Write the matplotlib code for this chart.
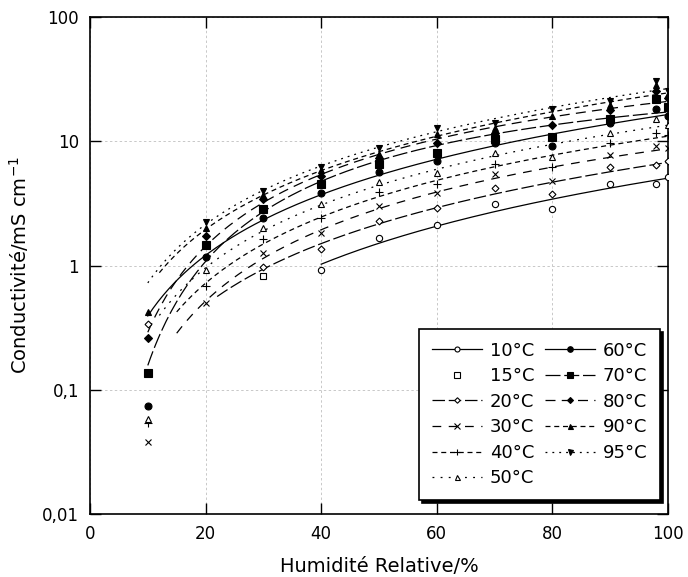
import numpy as np
import matplotlib
matplotlib.use("Agg")
import matplotlib.pyplot as plt
from matplotlib.lines import Line2D
from matplotlib.ticker import FixedLocator, FixedFormatter, NullLocator

# Données (humidité relative en %, conductivité en mS/cm)
temperatures = ["10°C", "15°C", "20°C", "30°C", "40°C", "50°C",
                "60°C", "70°C", "80°C", "90°C", "95°C"]

rh_10 = [40, 50, 60, 70, 80, 90, 98, 100]
sigma_10 = [0.92, 1.68, 2.1, 3.15, 2.87, 4.5, 4.5, 5.2]

rh_15 = [30]
sigma_15 = [0.82]

rh_20 = [10, 30, 40, 50, 60, 70, 80, 90, 98, 100]
sigma_20 = [0.34, 0.98, 1.35, 2.3, 2.93, 4.24, 3.73, 6.15, 6.5, 7.0]

rh_all = [10, 20, 30, 40, 50, 60, 70, 80, 90, 98, 100]
sigma_30 = [0.038, 0.495, 1.27, 1.81, 3.04, 3.8, 5.5, 4.8, 7.8, 9.1, 8.9]
sigma_40 = [0.054, 0.69, 1.62, 2.39, 3.87, 4.57, 6.6, 6.15, 9.6, 11.6, 11.3]
sigma_50 = [0.058, 0.92, 2.02, 3.1, 4.74, 5.6, 8.0, 7.5, 11.6, 15.0, 13.4]
sigma_60 = [0.074, 1.16, 2.43, 3.8, 5.7, 6.9, 9.6, 9.2, 13.9, 18.3, 16.1]
sigma_70 = [0.137, 1.45, 2.87, 4.57, 6.6, 8.0, 10.5, 10.9, 15.2, 22.0, 18.7]
sigma_80 = [0.263, 1.74, 3.46, 5.3, 7.4, 9.6, 11.7, 13.4, 17.7, 25.6, 22.5]
sigma_90 = [0.42, 2.0, 3.7, 5.9, 7.9, 11.5, 12.9, 16.1, 19.7, 28.6, 24.0]

rh_95 = [20, 30, 40, 50, 60, 70, 80, 90, 98, 100]
sigma_95 = [2.22, 4.0, 6.15, 8.9, 12.7, 13.9, 18.3, 20.9, 30.8, 25.6]

rh_data = [rh_10, rh_15, rh_20, rh_all, rh_all, rh_all,
           rh_all, rh_all, rh_all, rh_all, rh_95]
sigma_data = [sigma_10, sigma_15, sigma_20, sigma_30, sigma_40, sigma_50,
              sigma_60, sigma_70, sigma_80, sigma_90, sigma_95]

# style : marqueur, remplissage, tirets, debut de l'ajustement, debut de la courbe
markers = ["o", "s", "D", "x", "+", "^", "o", "s", "D", "^", "v"]
filled = [False, False, False, False, False, False, True, True, True, True, True]
msizes = [4.5, 5, 3.5, 5, 5.5, 4.5, 5, 5.5, 3.8, 4.5, 4.5]
dashes = [None, "none", (10, 3), (7, 6), (4, 3), (1.5, 5),
          None, (12, 3), (8, 5), (4, 3), (1.5, 4)]
fit_from = [40, None, 30, 20, 20, 20, 20, 10, 10, 20, 20]
fit_deg = [1, None, 1, 2, 2, 2, 1, 2, 2, 1, 1]
line_from = [40, None, 22, 15, 15, 12, 10, 10, 10, 12, 10]

fig = plt.figure(figsize=(6.88, 5.77), dpi=100)
ax = fig.add_axes([0.1308, 0.1092, 0.8402, 0.8613])

handles = []
for i, name in enumerate(temperatures):
    x = np.array(rh_data[i], dtype=float)
    y = np.array(sigma_data[i], dtype=float)
    face = "black" if filled[i] else "white"
    ax.plot(x, y, ls="none", marker=markers[i], ms=msizes[i],
            mfc=face, mec="black", mew=0.8, zorder=3)

    if fit_from[i] is not None:
        sel = x >= fit_from[i]
        coef = np.polyfit(np.log10(x[sel]), np.log10(y[sel]), fit_deg[i])
        xs = np.linspace(line_from[i], 100, 200)
        ys = 10 ** np.polyval(coef, np.log10(xs))
        line, = ax.plot(xs, ys, color="black", lw=0.9, zorder=2)
        if dashes[i] is not None:
            line.set_dashes(dashes[i])
        h = Line2D([], [], color="black", lw=0.9, marker=markers[i],
                   ms=msizes[i] * 0.8, mfc=face, mec="black", mew=0.8)
        if dashes[i] is not None:
            h.set_dashes(dashes[i])
    else:
        h = Line2D([], [], ls="none", marker=markers[i], ms=msizes[i] * 0.8,
                   mfc=face, mec="black", mew=0.8)
    handles.append(h)

ax.set_yscale("log")
ax.set_xlim(0, 100)
ax.set_ylim(0.01, 100)

yt = [0.01, 0.1, 1, 10, 100]
ax.yaxis.set_major_locator(FixedLocator(yt))
ax.yaxis.set_major_formatter(FixedFormatter(["0,01", "0,1", "1", "10", "100"]))
ax.yaxis.set_minor_locator(NullLocator())
ax.set_xticks([0, 20, 40, 60, 80, 100])

ax.tick_params(direction="in", length=8, width=1, top=True, right=True,
               labelsize=12, pad=8)
for s in ax.spines.values():
    s.set_linewidth(1.2)

ax.grid(True, color="#c8c8c8", ls=(0, (2.5, 2.5)), lw=0.7)
ax.set_axisbelow(True)

ax.set_xlabel("Humidité Relative/%", fontsize=14, labelpad=10)
ax.set_ylabel("Conductivité/mS cm$^{-1}$", fontsize=14, labelpad=8)

leg = ax.legend(handles, temperatures, ncol=2, loc="lower right",
                bbox_to_anchor=(0.986, 0.028), borderaxespad=0,
                fontsize=13, frameon=True, fancybox=False,
                shadow={"color": "black", "alpha": 1},
                handlelength=2.8, columnspacing=0.6, handletextpad=0.4,
                labelspacing=0.42, borderpad=0.7)
leg.get_frame().set_edgecolor("black")
leg.get_frame().set_linewidth(1.2)

fig.savefig("out.png", dpi=100)
